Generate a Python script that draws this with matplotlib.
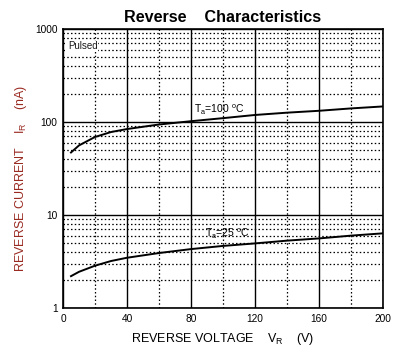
import numpy as np
import matplotlib.pyplot as plt
from matplotlib.ticker import FixedLocator, NullFormatter

plt.rcParams['font.family'] = ['Liberation Sans', 'DejaVu Sans']
plt.rcParams['mathtext.fontset'] = 'custom'
plt.rcParams['mathtext.rm'] = 'Liberation Sans'

# --- 読み取ったデータ ---
vr = [5, 10, 20, 30, 40, 60, 80, 100, 120, 140, 160, 180, 200]
ir_100c = [47, 56, 69, 78, 84, 94, 102, 110, 119, 126, 132, 140, 147]
ir_25c = [2.2, 2.45, 2.85, 3.2, 3.47, 3.9, 4.3, 4.65, 4.95, 5.3, 5.6, 6.0, 6.35]

x_ticks = [0, 40, 80, 120, 160, 200]
x_minor = [20, 60, 100, 140, 180]
y_ticks = [1, 10, 100, 1000]
y_minor = [m * d for d in (1, 10, 100) for m in range(2, 10)]

fig = plt.figure(figsize=(4.05, 3.58), dpi=100)
ax = fig.add_axes([63 / 405, 1 - 308 / 358, 320 / 405, 279 / 358])

ax.set_yscale('log')
ax.set_xlim(0, 200)
ax.set_ylim(1, 1000)

ax.xaxis.set_major_locator(FixedLocator(x_ticks))
ax.xaxis.set_minor_locator(FixedLocator(x_minor))
ax.yaxis.set_major_locator(FixedLocator(y_ticks))
ax.yaxis.set_minor_locator(FixedLocator(y_minor))
ax.yaxis.set_minor_formatter(NullFormatter())
ax.set_yticklabels([str(v) for v in y_ticks])
ax.tick_params(which='both', length=0, labelsize=7.3, pad=4)

ax.grid(True, which='major', color='black', linestyle='-', linewidth=1.0)
ax.grid(True, which='minor', color='black', linestyle=(0, (1.2, 1.8)), linewidth=0.9)
for s in ax.spines.values():
    s.set_linewidth(1.2)

ax.plot(vr, ir_100c, color='black', linewidth=1.4)
ax.plot(vr, ir_25c, color='black', linewidth=1.4)

ax.text(82, 112, 'T$_\\mathregular{a}$=100 $^\\mathregular{o}$C', fontsize=7.5,
        ha='left', va='bottom')
ax.text(88.5, 5.3, 'T$_\\mathregular{a}$=25 $^\\mathregular{o}$C', fontsize=7.5,
        ha='left', va='bottom')
ax.text(3, 650, 'Pulsed', fontsize=7, color='#1a1a1a', ha='left', va='center',
        bbox=dict(facecolor='white', edgecolor='none', pad=0.3))

fig.text(223 / 405, 1 - 17 / 358, 'Reverse    Characteristics', fontsize=11.6,
         fontweight='bold', ha='center', va='center')
fig.text(223 / 405, 1 - 339 / 358, 'REVERSE VOLTAGE    V$_\\mathregular{R}$    (V)',
         fontsize=9, ha='center', va='center')
fig.text(21 / 405, 1 - 178 / 358, 'REVERSE CURRENT    I$_\\mathregular{R}$    (nA)',
         fontsize=9, ha='center', va='center', rotation=90, color='#9a2a22')

fig.savefig('out.png', dpi=100)
